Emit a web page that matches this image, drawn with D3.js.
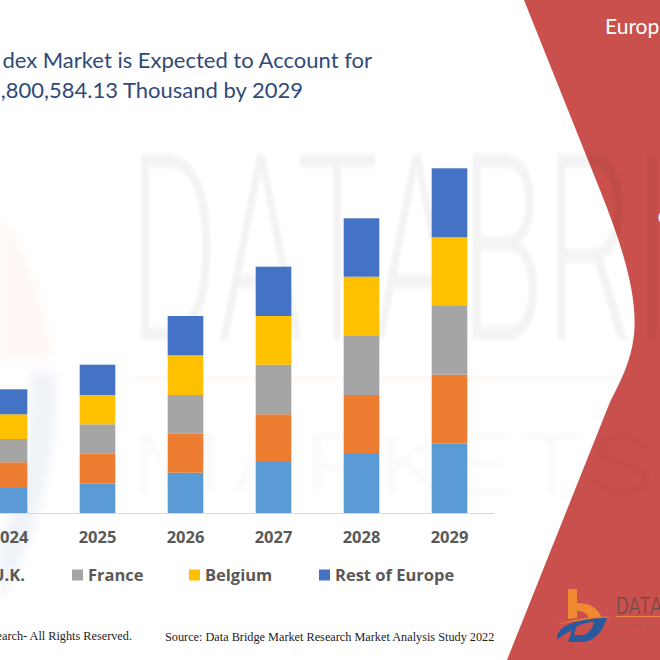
<!DOCTYPE html>
<html>
<head>
<meta charset="utf-8">
<script src="https://cdn.jsdelivr.net/npm/d3@7"></script>
<style>
  html, body { margin: 0; padding: 0; background: #fff; overflow: hidden; }
  svg { display: block; }
</style>
</head>
<body>
<div id="chart"></div>
<script>
// Values (no axis in the source, so arbitrary units)
const years = ["2024", "2025", "2026", "2027", "2028", "2029"]
const seriesKeys = ["first", "uk", "france", "belgium", "rest"]
const first = [25, 29.7, 40.3, 51, 60, 69.3]
const uk = [25.7, 29.6, 39.4, 47.7, 58, 69]
const france = [23.3, 29.4, 38.3, 49.6, 59.7, 68.7]
const belgium = [24.7, 29.3, 39.7, 48.7, 58.6, 68.7]
const rest = [25, 30.3, 39.3, 49.3, 58.4, 69]
const colors = ["#5b9bd5", "#ed7d31", "#a5a5a5", "#ffc000", "#4472c4"]

const legendLabels = ["U.K.", "France", "Belgium", "Rest of Europe"]
const legendColors = ["#ed7d31", "#a5a5a5", "#ffc000", "#4472c4"]
const legendX = [-24, 72, 189, 319]

const titleLines = ["dex Market is Expected to Account for", ",800,584.13 Thousand by 2029"]

const width = 660
const height = 660

const svg = d3.select("#chart").append("svg")
    .attr("width", width)
    .attr("height", height)

const defs = svg.append("defs")
defs.append("filter").attr("id", "soft").append("feGaussianBlur").attr("stdDeviation", 2.4)
defs.append("filter").attr("id", "softer").append("feGaussianBlur").attr("stdDeviation", 5)

// Red panel on the right
svg.append("path")
    .attr("d", "M524,0 L600,190 C622,245 638,295 634,335 C631,362 620,382 610,402 L507,660 L660,660 L660,0 Z")
    .attr("fill", "#c9504c")

// Faint watermark behind the chart
const mark = svg.append("g").attr("pointer-events", "none")
mark.append("path")
    .attr("d", "M0,215 C25,250 45,305 52,358 L0,360 Z")
    .attr("fill", "#fdeee6")
    .attr("opacity", 0.45)
    .attr("filter", "url(#softer)")
mark.append("path")
    .attr("d", "M30,372 L56,372 C60,440 40,540 0,600 L0,540 C20,500 32,440 30,372 Z")
    .attr("fill", "#e9eef5")
    .attr("opacity", 0.7)
    .attr("filter", "url(#softer)")
mark.append("text")
    .attr("transform", "translate(128,340) scale(0.53,1)")
    .attr("font-family", "Roboto")
    .attr("font-weight", 300)
    .attr("font-size", 262)
    .attr("fill", "#000")
    .attr("opacity", 0.045)
    .attr("filter", "url(#soft)")
    .text("DATABRIDGE")
mark.append("rect")
    .attr("x", 135).attr("y", 376).attr("width", 360).attr("height", 5)
    .attr("fill", "#fdeee6").attr("opacity", 0.5).attr("filter", "url(#soft)")
mark.append("rect")
    .attr("x", 495).attr("y", 376).attr("width", 130).attr("height", 5)
    .attr("fill", "#000").attr("opacity", 0.03).attr("filter", "url(#soft)")
mark.append("text")
    .attr("transform", "translate(132,494) scale(1.25,1)")
    .attr("font-family", "Roboto")
    .attr("font-weight", 300)
    .attr("font-size", 84)
    .attr("letter-spacing", 6)
    .attr("fill", "#000")
    .attr("opacity", 0.022)
    .attr("filter", "url(#soft)")
    .text("MARKETS")

// Chart: each band is 88px wide, the first years run off the left edge
const x = d3.scaleBand()
    .domain(years)
    .range([-34.5, 493.5])
    .paddingInner(0.595)
    .paddingOuter(0.2975)

const y = d3.scaleLinear()
    .domain([0, 345])
    .range([513, 168])

const rows = years.map((year, i) => ({
  year: year,
  first: first[i],
  uk: uk[i],
  france: france[i],
  belgium: belgium[i],
  rest: rest[i]
}))

const stacked = d3.stack().keys(seriesKeys)(rows)

svg.append("g")
    .selectAll("g")
    .data(stacked)
    .join("g")
    .attr("fill", (d, i) => colors[i])
    .selectAll("rect")
    .data(d => d)
    .join("rect")
    .attr("x", d => x(d.data.year))
    .attr("y", d => y(d[1]))
    .attr("width", x.bandwidth())
    .attr("height", d => y(d[0]) - y(d[1]))

const xAxis = svg.append("g")
    .attr("transform", "translate(0," + y(0) + ")")
    .call(d3.axisBottom(x).tickSize(0).tickPadding(18))
xAxis.select(".domain").attr("stroke", "#d9d9d9").attr("stroke-width", 1)
xAxis.selectAll("text")
    .attr("font-family", "'Open Sans'")
    .attr("font-weight", 700)
    .attr("font-size", 16.5)
    .attr("fill", "#595959")

// Legend
const legend = svg.append("g")
    .selectAll("g")
    .data(legendLabels)
    .join("g")
    .attr("transform", (d, i) => "translate(" + legendX[i] + ",575)")
legend.append("rect")
    .attr("y", -5.5)
    .attr("width", 11)
    .attr("height", 11)
    .attr("fill", (d, i) => legendColors[i])
legend.append("text")
    .attr("x", 16)
    .attr("y", 6)
    .attr("font-family", "'Open Sans'")
    .attr("font-weight", 700)
    .attr("font-size", 16.5)
    .attr("fill", "#595959")
    .text(d => d)

// Title, clipped by the left edge of the picture
svg.append("g")
    .selectAll("text")
    .data(titleLines)
    .join("text")
    .attr("x", (d, i) => i === 0 ? 372 : 303)
    .attr("y", (d, i) => 68 + i * 30)
    .attr("text-anchor", "end")
    .attr("font-family", "Lato")
    .attr("font-size", 22)
    .attr("fill", "#2f4a78")
    .text(d => d)

// Footer
const footer = svg.append("g")
    .attr("font-family", "'Liberation Serif'")
    .attr("font-size", 12.25)
    .attr("fill", "#222")
footer.append("text").attr("x", 132).attr("y", 640).attr("text-anchor", "end").text("earch- All Rights Reserved.")
footer.append("text").attr("x", 165).attr("y", 641).text("Source: Data Bridge Market Research Market Analysis Study 2022")

// Text on the red panel
svg.append("text")
    .attr("x", 605).attr("y", 34)
    .attr("font-family", "Lato")
    .attr("font-size", 21)
    .attr("fill", "#fff")
    .text("Europ")
svg.append("text")
    .attr("x", 657.5).attr("y", 224)
    .attr("font-family", "Lato")
    .attr("font-weight", 700)
    .attr("font-size", 26)
    .attr("fill", "#fff")
    .text("6")

// Logo, bottom right
const logo = svg.append("g")
logo.append("path")
    .attr("d", "M568,589 L577,589 L577,603 C590,603 598,608 601,617 L589,618 C587,613 583,611 577,611 L577,618 L568,619 Z")
    .attr("fill", "#f08a32")
logo.append("path")
    .attr("d", "M555,625 C575,619 595,616 611,617 C593,618 572,621 555,625 Z")
    .attr("fill", "#f08a32")
logo.append("path")
    .attr("fill-rule", "evenodd")
    .attr("d", "M557,640 C556,632 563,626 572,623 C585,619 597,618 607,618 C603,630 596,641 583,642 L568,642 L572,630 C566,633 561,636 557,640 Z M594,622 C588,622 581,624 576,627 L574,635 L584,635 C589,633 593,628 594,622 Z")
    .attr("fill", "#2a5a9e")
logo.append("text")
    .attr("x", 616).attr("y", 614)
    .attr("font-family", "Roboto")
    .attr("font-weight", 300)
    .attr("font-size", 23)
    .attr("textLength", 46)
    .attr("lengthAdjust", "spacingAndGlyphs")
    .attr("fill", "#6a4a48")
    .text("DATA")
logo.append("rect")
    .attr("x", 616).attr("y", 616).attr("width", 44).attr("height", 1)
    .attr("fill", "#e8874a")
logo.append("text")
    .attr("x", 617).attr("y", 627)
    .attr("font-family", "Roboto")
    .attr("font-size", 6)
    .attr("letter-spacing", 3)
    .attr("fill", "#a06050")
    .text("MARKET")
</script>
</body>
</html>
